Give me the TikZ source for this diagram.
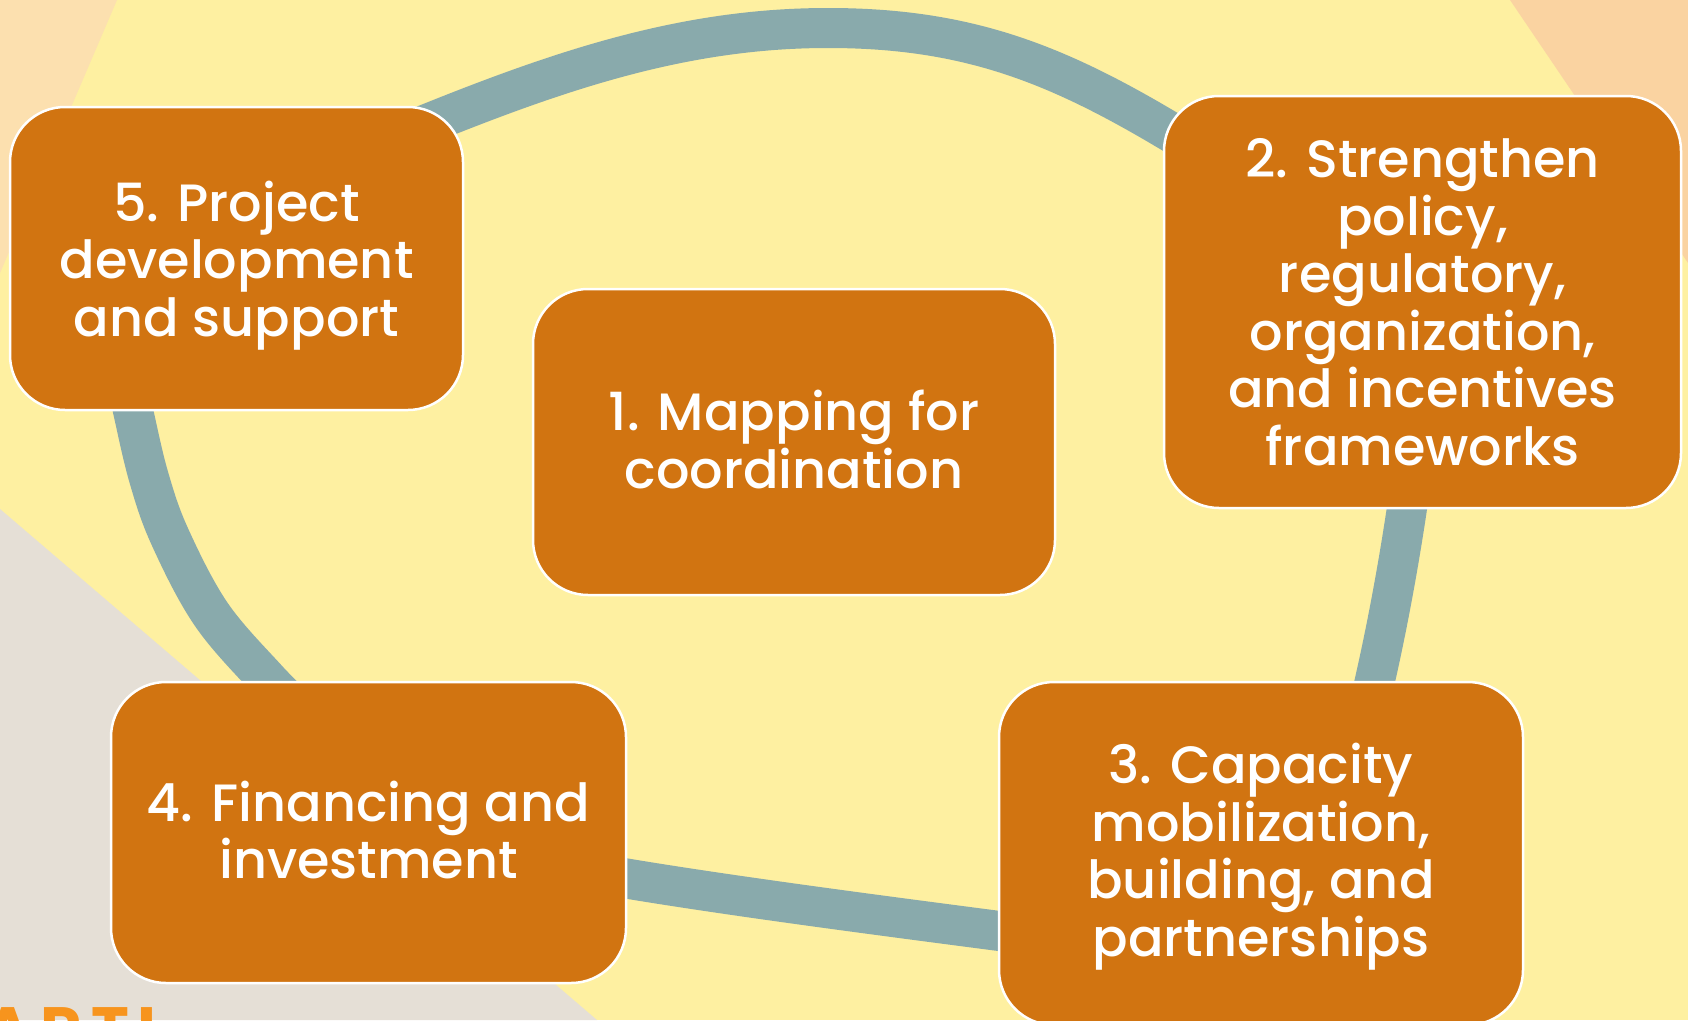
\documentclass[tikz,border=0pt]{standalone}
\usepackage{fontspec}
\setmainfont{Poppins}[UprightFont=* Medium, BoldFont=* Bold]
\newfontfamily\artifont{Poppins}[UprightFont=* Bold, LetterSpace=14]
\usetikzlibrary{backgrounds}
\definecolor{bgyellow}{HTML}{FEF0A1}
\definecolor{peachL}{HTML}{FCE0AF}
\definecolor{peachR}{HTML}{FAD3A1}
\definecolor{graybg}{HTML}{E5DFD6}
\definecolor{connblue}{HTML}{89AAAC}
\definecolor{boxorange}{HTML}{D17411}
\definecolor{artiorange}{HTML}{F7941D}
\begin{document}
\begin{tikzpicture}[x=1pt,y=-1pt,
  stepbox/.style={draw=white, line width=2.5pt, fill=boxorange, rounded corners=55pt,
    text=white, align=center, inner sep=0pt, text depth=0pt,
    font=\fontsize{52.5}{57.5}\selectfont},
  conn/.style={draw=connblue, line width=40pt, line join=round}]
\useasboundingbox (0,0) rectangle (1688,1020);
\begin{scope}[on background layer]
  \fill[bgyellow] (0,0) rectangle (1688,1020);
  \fill[peachL] (0,0) -- (117,0) -- (0,273) -- cycle;
  \fill[peachR] (1510,0) -- (1688,0) -- (1688,263) -- cycle;
  \fill[graybg] (0,509) -- (597,1020) -- (0,1020) -- cycle;
\end{scope}

\node[stepbox, minimum width=453pt, minimum height=303pt] (n5) at (236.5,258.5)
  {5. Project\\development\\and support};
\node[stepbox, text depth=6pt, minimum width=522pt, minimum height=306pt] (n1) at (794,442)
  {1. Mapping for\\coordination};
\node[stepbox, minimum width=517pt, minimum height=412pt] (n2) at (1422.5,302)
  {2. Strengthen\\policy,\\regulatory,\\organization,\\and incentives\\frameworks};
\node[stepbox, text depth=7pt, minimum width=524pt, minimum height=343pt] (n3) at (1261,853.5)
  {3. Capacity\\mobilization,\\building, and\\partnerships};
\node[stepbox, text depth=5pt, minimum width=515pt, minimum height=301pt] (n4) at (368.5,832.5)
  {4. Financing and\\investment};

\begin{scope}
  \clip (0,0) rectangle (1688,1020);
  \node[anchor=north west, inner sep=0pt, text=artiorange,
    font=\artifont\fontsize{64}{64}\selectfont] (arti) at (-16,1007) {ARTI};
\end{scope}

\begin{scope}[on background layer]
  \draw[conn] (n5.center) -- (400,135) .. controls (550,73.5) and (678,28) .. (828,28)
    .. controls (978,28) and (1070,69.4) .. (1200,150) -- (n2.center);
  \draw[conn] (n2.center) -- (1411,480) .. controls (1400,560) and (1385,640) .. (1368,710)
    -- (n3.center);
  \draw[conn] (n3.center) -- (1030,935) .. controls (900,918) and (720,895) .. (600,874)
    -- (n4.center);
  \draw[conn] (n4.center) -- (300,712)
    -- plot[smooth, tension=0.6] coordinates {(300,712) (266,678) (211,614) (170,537) (149,478) (134,415) (128,385)}
    -- (n5.center);
\end{scope}
\end{tikzpicture}
\end{document}
